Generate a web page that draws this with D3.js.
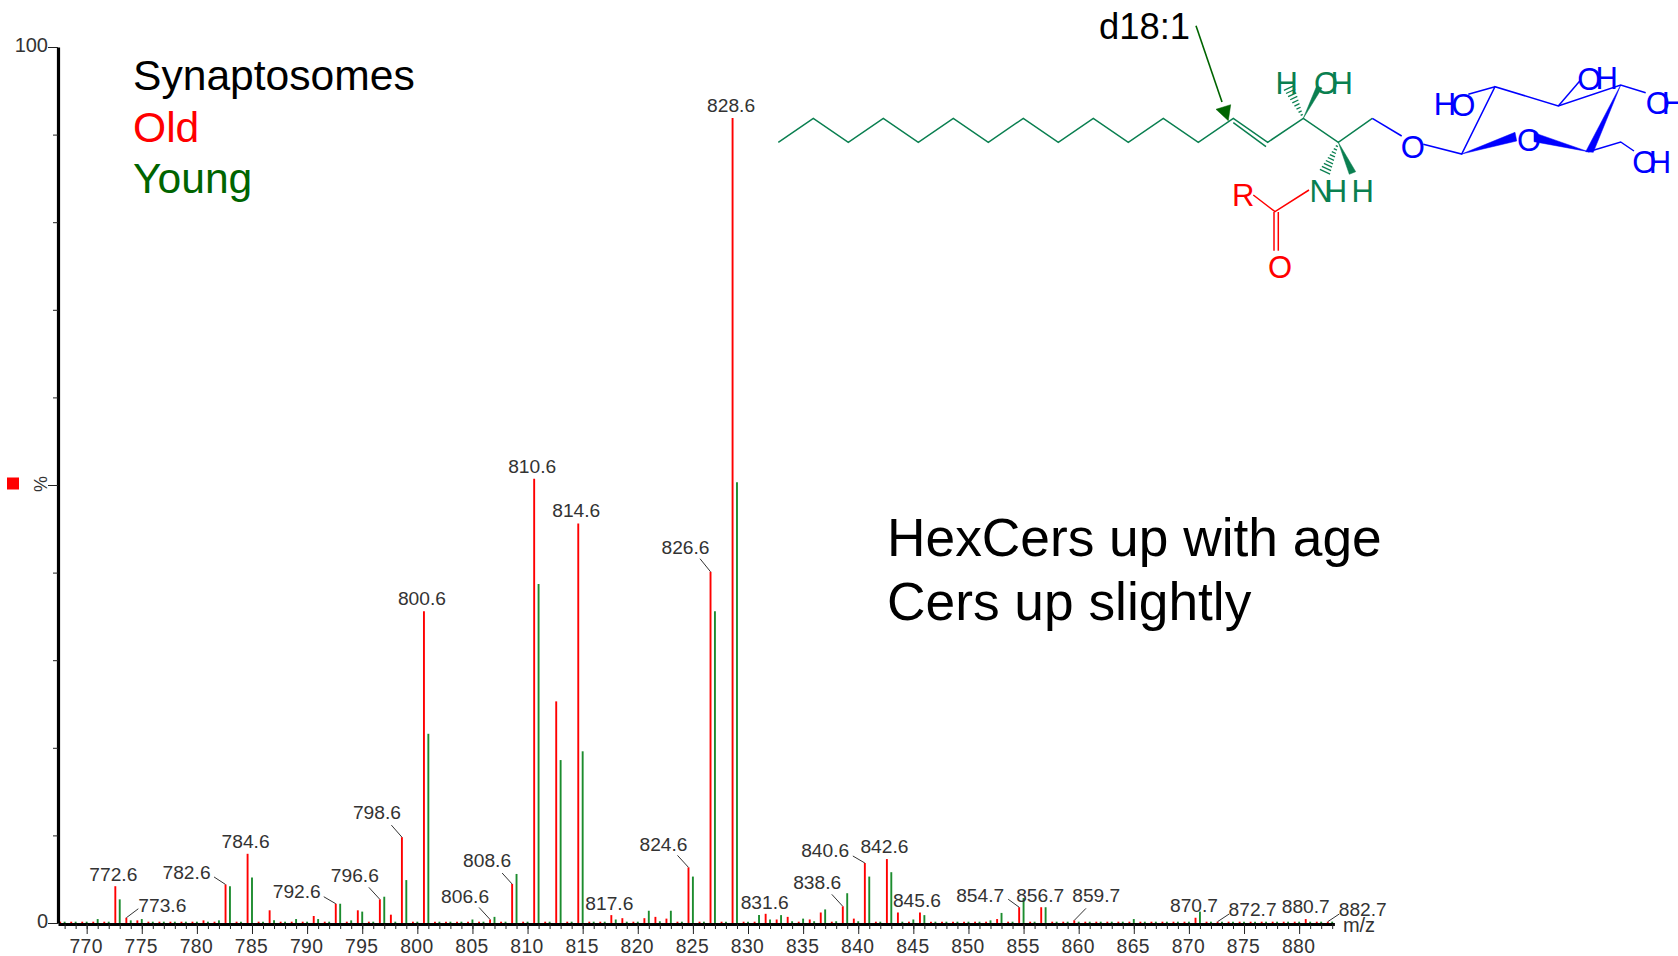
<!DOCTYPE html>
<html lang="en">
<head>
<meta charset="UTF-8">
<title>Synaptosomes Old vs Young</title>
<script src="https://d3js.org/d3.v7.min.js"></script>
<style>
  body { margin: 0; background: #fff; }
  svg { display: block; font-family: "Liberation Sans", Arial, sans-serif; }
</style>
</head>
<body>
<svg id="chart" width="1678" height="956"></svg>
<script>
// peak positions and heights (% of base peak)
var oldMz = [767.6,768.6,769.6,770.6,771.6,772.6,773.6,774.6,775.6,776.6,
  777.6,778.6,779.6,780.6,781.6,782.6,783.6,784.6,785.6,786.6,
  787.6,788.6,789.6,790.6,791.6,792.6,793.6,794.6,795.6,796.6,
  797.6,798.6,799.6,800.6,801.6,802.6,803.6,804.6,805.6,806.6,
  807.6,808.6,809.6,810.6,811.6,812.6,813.6,814.6,815.6,816.6,
  817.6,818.6,819.6,820.6,821.6,822.6,823.6,824.6,825.6,826.6,
  827.6,828.6,829.6,830.6,831.6,832.6,833.6,834.6,835.6,836.6,
  837.6,838.6,839.6,840.6,841.6,842.6,843.6,844.6,845.6,846.6,
  847.6,848.6,849.6,850.6,851.6,852.6,853.6,854.6,855.6,856.6,
  857.6,858.6,859.6,860.6,861.6,862.6,863.6,864.6,865.6,866.6,
  867.6,868.6,869.6,870.6,871.6,872.6,873.6,874.6,875.6,876.6,
  877.6,878.6,879.6,880.6,881.6,882.6];
var oldPct = [.15,.15,.15,.15,.15,4.2,.6,.3,.15,.15,
  .15,.15,.15,.3,.15,4.4,.15,7.9,.15,1.45,
  .15,.15,.15,.8,.15,2.2,.15,1.45,.15,2.7,
  .95,9.8,.15,35.6,.15,.15,.15,.15,.15,.4,
  .15,4.45,.15,50.7,.15,25.3,.15,45.6,.15,.15,
  .9,.55,.15,.55,.7,.5,.15,6.35,.15,40.1,
  .15,91.9,.15,.15,1.05,.4,.7,.15,.4,1.2,
  .15,1.9,.5,6.85,.15,7.3,1.2,.15,1.2,.15,
  .15,.15,.15,.15,.15,.45,.15,1.8,.15,1.8,
  .15,.15,.3,.15,.15,.15,.15,.15,.15,.15,
  .15,.15,.15,.6,.15,.15,.15,.15,.15,.15,
  .15,.15,.15,.45,.15,.15];

var youngMz = [768,769,770,771,772,773,774,775,776,777,
  778,779,780,781,782,783,784,785,786,787,
  788,789,790,791,792,793,794,795,796,797,
  798,799,800,801,802,803,804,805,806,807,
  808,809,810,811,812,813,814,815,816,817,
  818,819,820,821,822,823,824,825,826,827,
  828,829,830,831,832,833,834,835,836,837,
  838,839,840,841,842,843,844,845,846,847,
  848,849,850,851,852,853,854,855,856,857,
  858,859,860,861,862,863,864,865,866,867,
  868,869,870,871,872,873,874,875,876,877,
  878,879,880,881,882,883];
var youngPct = [.15,.15,.15,.45,.15,2.7,.3,.45,.15,.15,
  .15,.15,.15,.15,.3,4.2,.15,5.2,.15,.3,
  .15,.45,.15,.45,.15,2.2,.3,1.3,.15,3.0,
  .15,4.9,.15,21.6,.15,.15,.15,.4,.15,.7,
  .15,5.6,.15,38.7,.15,18.6,.15,19.6,.15,.15,
  .4,.15,.15,1.4,.2,1.4,.15,5.3,.15,35.6,
  .15,50.3,.15,.9,.4,.9,.2,.5,.2,1.55,
  .2,3.4,.2,5.3,.15,5.8,.15,.4,.9,.15,
  .15,.15,.15,.15,.3,1.15,.15,2.85,.15,1.8,
  .15,.15,.15,.15,.15,.15,.15,.45,.15,.15,
  .15,.15,.15,1.3,.15,.15,.15,.15,.15,.15,
  .15,.15,.15,.15,.15,.15];

// labelled peaks
var labelMz = [772.6,773.6,782.6,784.6,792.6,796.6,798.6,800.6,806.6,808.6,810.6,814.6,817.6,824.6,826.6,828.6,831.6,838.6,840.6,842.6,845.6,854.6,856.6,859.6,870.6,872.6,880.6,882.6];
var labelText = ["772.6","773.6","782.6","784.6","792.6","796.6","798.6","800.6","806.6","808.6","810.6","814.6","817.6","824.6","826.6","828.6","831.6","838.6","840.6","842.6","845.6","854.7","856.7","859.7","870.7","872.7","880.7","882.7"];
// label offset from the peak top, and where its leader starts (0,0 = no leader)
var labelDx = [-2,36,-39,-2,-39,-25,-25,-2,-25,-25,-2,-2,-2,-25,-25,-1.5,-1,-25.6,-39.7,-2.5,-3,-39,-1,22,-1.5,35,0,35];
var labelDy = [-12,-12,-12.5,-13,-12,-23.6,-25,-13,-23.5,-23.6,-13,-13,-12,-23.4,-24.7,-13,-11.5,-24,-12.3,-12.3,-12,-12,-12,-25,-12.7,-12,-12.7,-12];
var leaderDx = [0,12,-11.5,0,-12,-11,-10.5,0,-11,-10,0,0,0,-11,-10.5,0,0,-11,-12,0,0,-11,0,11.7,0,11.6,0,11.5];
var leaderDy = [0,-9,-7.5,0,-7,-12,-12,0,-12,-11,0,0,0,-12,-13,0,0,-12,-7,0,0,-8,0,-12,0,-7.7,0,-7.7];

var majorTicks = [770,775,780,785,790,795,800,805,810,815,820,825,830,835,840,845,850,855,860,865,870,875,880];
var yTicks = [0,10,20,30,40,50,60,70,80,90,100];
var yTickLabels = ["0","100"];

var RED = "#ff0000", GREEN = "#1c8c2e", TEXT = "#333", MOL = "#0a7f50", BLUE = "#0000ff";

var svg = d3.select("#chart");
var x = d3.scaleLinear().domain([767.4, 883.2]).range([58, 1334.4]);
var y = d3.scaleLinear().domain([0, 100]).range([923, 47]);

// stems
function drawStems(mz, pct, colour) {
    svg.append("g").selectAll("line").data(mz).enter().append("line")
        .attr("x1", function (d) { return x(d); })
        .attr("x2", function (d) { return x(d); })
        .attr("y1", y(0))
        .attr("y2", function (d, i) { return y(pct[i]); })
        .attr("stroke", colour)
        .attr("stroke-width", 1.9);
}
drawStems(oldMz, oldPct, RED);
drawStems(youngMz, youngPct, GREEN);

// axes
var minorAxis = d3.axisBottom(x).tickValues(d3.range(768, 884)).tickSize(5).tickSizeOuter(0).tickFormat("");
var gMinor = svg.append("g").attr("transform", "translate(0,924)").call(minorAxis);
gMinor.select(".domain").attr("stroke", "#000").attr("stroke-width", 3.2);
gMinor.selectAll(".tick line").attr("stroke", "#222");

var majorAxis = d3.axisBottom(x).tickValues(majorTicks).tickSize(10).tickSizeOuter(0).tickPadding(5);
var gMajor = svg.append("g").attr("transform", "translate(0,924)").call(majorAxis);
gMajor.select(".domain").remove();
gMajor.selectAll(".tick line").attr("stroke", "#222");
gMajor.selectAll("text").attr("font-family", "Liberation Sans").attr("font-size", 19.3)
    .attr("fill", TEXT).attr("letter-spacing", 0.4).attr("dx", -1);

var yAxis = d3.axisLeft(y).tickValues(yTicks).tickSizeOuter(0)
    .tickFormat(function (d) { return yTickLabels.indexOf(String(d)) >= 0 ? d : ""; });
var gy = svg.append("g").attr("transform", "translate(58,0)").call(yAxis);
gy.select(".domain").attr("stroke", "#000").attr("stroke-width", 3.2);
gy.selectAll(".tick line").attr("stroke", "#222")
    .attr("x2", function (d) { return d % 50 == 0 ? -10 : -5; });
gy.selectAll("text").attr("x", -10).attr("y", -1.5).attr("font-family", "Liberation Sans")
    .attr("font-size", 20).attr("fill", TEXT);

svg.append("text").text("%").attr("text-anchor", "middle").attr("dy", "0.35em")
    .attr("transform", "translate(41," + (y(50) - 1) + ") rotate(-90)")
    .attr("font-size", 18).attr("fill", TEXT);
svg.append("rect").attr("x", 7).attr("y", y(50) - 7.5).attr("width", 12).attr("height", 12).attr("fill", RED);
svg.append("text").text("m/z").attr("x", 1359).attr("y", 925).attr("dy", "0.35em")
    .attr("text-anchor", "middle").attr("font-size", 20).attr("fill", TEXT);

// peak labels and leaders
var peakTop = function (m) { return y(oldPct[oldMz.indexOf(m)]); };
svg.append("g").selectAll("text").data(labelMz).enter().append("text")
    .text(function (d, i) { return labelText[i]; })
    .attr("x", function (d, i) { return x(d) + labelDx[i]; })
    .attr("y", function (d, i) { return peakTop(d) + labelDy[i]; })
    .attr("dy", "0.35em")
    .attr("text-anchor", "middle")
    .attr("font-size", 19.2)
    .attr("fill", TEXT);
svg.append("g").selectAll("line").data(labelMz).enter()
    .filter(function (d, i) { return leaderDx[i] != 0; })
    .append("line")
    .attr("x1", function (d) { var i = labelMz.indexOf(d); return x(d) + leaderDx[i]; })
    .attr("y1", function (d) { var i = labelMz.indexOf(d); return peakTop(d) + leaderDy[i]; })
    .attr("x2", function (d) { return x(d); })
    .attr("y2", function (d) { return peakTop(d); })
    .attr("stroke", "#333")
    .attr("stroke-width", 1);

// legend and notes
function note(t, px, py, size, colour) {
    svg.append("text").text(t).attr("x", px).attr("y", py).attr("font-size", size).attr("fill", colour);
}
note("Synaptosomes", 133, 90, 42.6, "#000");
note("Old", 133, 142, 42.6, RED);
note("Young", 133, 193, 42.6, "#006400");
note("HexCers up with age", 887, 556, 53.3, "#000");
note("Cers up slightly", 887, 620, 53.3, "#000");
note("d18:1", 1099, 39, 36.4, "#000");

// molecule sketch
function bond(pts, colour, w) {
    svg.append("path").attr("d", d3.line()(pts)).attr("fill", "none")
        .attr("stroke", colour).attr("stroke-width", w || 1.5).attr("stroke-linejoin", "miter");
}
function wedge(pts, colour) {
    svg.append("path").attr("d", d3.line()(pts) + "Z").attr("fill", colour).attr("stroke", colour).attr("stroke-width", 0.5);
}
function hash(from, to, colour) {
    var dx = to[0] - from[0], dy = to[1] - from[1], len = Math.sqrt(dx * dx + dy * dy);
    var nx = -dy / len, ny = dx / len;
    for (var k = 1; k <= 9; k++) {
        var t = k / 9, cx = from[0] + dx * t, cy = from[1] + dy * t, half = 0.6 + 5 * t;
        bond([[cx - nx * half, cy - ny * half], [cx + nx * half, cy + ny * half]], colour, 1.3);
    }
}
function atom(t, cx, cy, colour) {
    svg.append("text").text(t).attr("x", cx).attr("y", cy).attr("dy", "0.36em")
        .attr("text-anchor", "middle").attr("font-size", 31).attr("fill", colour);
}

bond([[778.3,142.3],[813.3,118.3],[848.3,142.3],[883.3,118.3],[918.3,142.3],[953.3,118.3],[988.3,142.3],[1023.3,118.3],
      [1058.3,142.3],[1093.3,118.3],[1128.3,142.3],[1163.3,118.3],[1198.3,142.3],[1233.3,118.3],[1267.7,142.3],
      [1303.3,118.3],[1338.3,142.3],[1372.3,118.3]], MOL);
bond([[1233.3,122.7],[1266,146.7]], MOL);
wedge([[1303.3,118.3],[1316.7,86],[1322,88]], MOL);
hash([1303.3,118.3], [1289,88], MOL);
wedge([[1338.3,142.3],[1349.3,174.3],[1355.7,171.7]], MOL);
hash([1338.3,143], [1325,171.7], MOL);
atom("H", 1286.7, 82.7, MOL);
atom("O", 1326, 82.7, MOL);
atom("H", 1341.7, 82.7, MOL);
atom("N", 1320.7, 190.7, MOL);
atom("H", 1336, 190.7, MOL);
atom("H", 1362.7, 190.7, MOL);

bond([[1253.3,195],[1275,211.7],[1309,190]], RED);
bond([[1274,212],[1274,250.7]], RED);
bond([[1278.3,212],[1278.3,250.7]], RED);
atom("R", 1243.3, 195, RED);
atom("O", 1280, 266.7, RED);

// arrow to the double bond
bond([[1196,25.7],[1222,102]], "#006400", 1.6);
wedge([[1228.3,120.7],[1216,109.3],[1230.7,104.7]], "#006400");

bond([[1372.3,118.3],[1401.7,136]], BLUE);
bond([[1423.3,144.3],[1461.7,154],[1495,86.7],[1558.3,106],[1620.7,85],[1645.7,92.7]], BLUE);
bond([[1495,86.7],[1468.3,94.3]], BLUE);
bond([[1558.3,106],[1580,80.7]], BLUE);
bond([[1588.3,151.7],[1620.7,142],[1634,151]], BLUE);
wedge([[1620.7,85],[1585.7,151.7],[1593.3,152.3]], BLUE);
wedge([[1461.7,154],[1515,132.3],[1516.7,141]], BLUE);
wedge([[1588.3,151.7],[1534,132.7],[1534,141.7]], BLUE);
atom("O", 1412.7, 147.3, BLUE);
atom("H", 1445, 104.3, BLUE);
atom("O", 1463.3, 105, BLUE);
atom("O", 1589.3, 79, BLUE);
atom("H", 1606.7, 78.3, BLUE);
atom("O", 1657.7, 102.7, BLUE);
atom("H", 1673, 102.7, BLUE);
atom("O", 1529, 140, BLUE);
atom("O", 1644.3, 161.7, BLUE);
atom("H", 1660, 161.7, BLUE);
</script>
</body>
</html>
